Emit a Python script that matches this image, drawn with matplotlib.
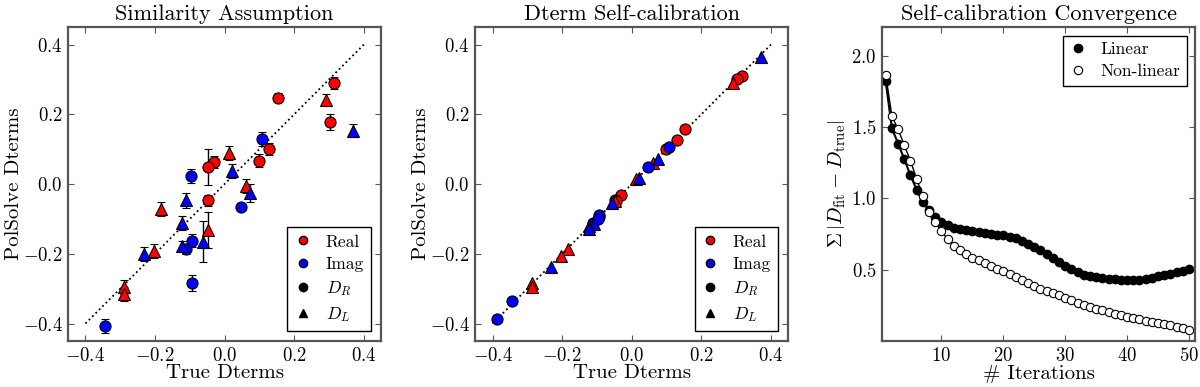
import numpy as np
import matplotlib
matplotlib.use("Agg")
import matplotlib.pyplot as plt
from matplotlib.lines import Line2D

plt.rcParams['font.family'] = 'serif'
plt.rcParams['font.serif'] = ['cmr10', 'DejaVu Serif']
plt.rcParams['mathtext.fontset'] = 'cm'
plt.rcParams['axes.formatter.use_mathtext'] = True
plt.rcParams['axes.unicode_minus'] = True

# --- panel 1: similarity assumption (true, fitted, error) ---
re_r_true = [0.314, 0.304, 0.152, 0.128, 0.098, -0.030, -0.049, -0.048]
re_r_fit = [0.290, 0.178, 0.248, 0.101, 0.067, 0.063, 0.049, -0.047]
re_r_err = [0.018, 0.022, 0.014, 0.018, 0.018, 0.018, 0.052, 0.015]
re_l_true = [0.291, 0.012, 0.060, -0.048, -0.182, -0.204, -0.288, -0.288]
re_l_fit = [0.242, 0.089, -0.007, -0.131, -0.072, -0.193, -0.295, -0.315]
re_l_err = [0.015, 0.020, 0.020, 0.052, 0.020, 0.020, 0.020, 0.020]
im_r_true = [-0.345, -0.112, -0.094, -0.094, -0.096, 0.046, 0.106]
im_r_fit = [-0.408, -0.186, -0.162, -0.284, 0.022, -0.066, 0.129]
im_r_err = [0.020, 0.015, 0.020, 0.022, 0.020, 0.004, 0.020]
im_l_true = [0.369, 0.020, 0.074, -0.062, -0.110, -0.122, -0.123, -0.233]
im_l_fit = [0.153, 0.036, -0.026, -0.165, -0.047, -0.177, -0.112, -0.200]
im_l_err = [0.018, 0.020, 0.025, 0.060, 0.022, 0.015, 0.020, 0.020]

# --- panel 2: self-calibration ---
sc_re_r = ([0.316, 0.303, 0.153, 0.129, 0.097, -0.030, -0.049, -0.045],
           [0.311, 0.301, 0.158, 0.127, 0.101, -0.031, -0.045, -0.049])
sc_re_l = ([0.292, 0.011, 0.061, -0.048, -0.182, -0.204, -0.288, -0.288],
           [0.290, 0.015, 0.060, -0.050, -0.187, -0.207, -0.285, -0.296])
sc_im_r = ([-0.388, -0.345, -0.112, -0.094, -0.094, -0.096, 0.047, 0.107],
           [-0.386, -0.335, -0.112, -0.095, -0.090, -0.100, 0.049, 0.105])
sc_im_l = ([0.370, 0.021, 0.074, -0.058, -0.110, -0.122, -0.123, -0.233],
           [0.364, 0.017, 0.072, -0.054, -0.115, -0.120, -0.128, -0.237])

# --- panel 3: convergence ---
iters = np.arange(1, 51)
linear = [1.82, 1.49, 1.384, 1.274, 1.16, 1.06, 0.972, 0.915, 0.867, 0.833,
          0.81, 0.795, 0.786, 0.776, 0.770, 0.763, 0.758, 0.752, 0.745, 0.740,
          0.732, 0.723, 0.702, 0.681, 0.658, 0.634, 0.611, 0.581, 0.553, 0.525,
          0.502, 0.480, 0.465, 0.456, 0.449, 0.442, 0.437, 0.432, 0.427, 0.425,
          0.425, 0.428, 0.436, 0.444, 0.453, 0.461, 0.472, 0.482, 0.490, 0.505]
nonlinear = [1.867, 1.576, 1.484, 1.372, 1.263, 1.135, 1.014, 0.907, 0.833, 0.768,
             0.716, 0.669, 0.641, 0.611, 0.583, 0.565, 0.546, 0.525, 0.507, 0.490,
             0.470, 0.449, 0.425, 0.404, 0.386, 0.367, 0.351, 0.337, 0.320, 0.304,
             0.286, 0.269, 0.252, 0.239, 0.227, 0.214, 0.202, 0.191, 0.181, 0.170,
             0.159, 0.151, 0.142, 0.134, 0.125, 0.117, 0.109, 0.100, 0.091, 0.078]

RED = '#ff0000'
BLUE = '#0000ff'
SPINE = '#555555'


def style_axes(ax):
    for s in ax.spines.values():
        s.set_color(SPINE)
        s.set_linewidth(1.6)
    ax.tick_params(direction='in', top=True, right=True, length=4,
                   color=SPINE, labelsize=13.5, pad=4)


def dterm_legend(ax):
    handles = [
        Line2D([], [], ls='none', marker='o', mfc=RED, mec='k', ms=6),
        Line2D([], [], ls='none', marker='o', mfc=BLUE, mec='k', ms=6),
        Line2D([], [], ls='none', marker='o', mfc='k', mec='k', ms=6),
        Line2D([], [], ls='none', marker='^', mfc='k', mec='k', ms=6),
    ]
    leg = ax.legend(handles, ['Real', 'Imag', r'$D_R$', r'$D_L$'],
                    loc='lower right', numpoints=1, fontsize=12.5,
                    fancybox=False, edgecolor='k', framealpha=1,
                    handlelength=1.0, borderpad=0.4, labelspacing=0.4,
                    handletextpad=0.8, borderaxespad=0.6)
    leg.get_frame().set_linewidth(1.0)


fig = plt.figure(figsize=(12, 3.87), dpi=100)
ax1 = fig.add_axes([0.0567, 0.119, 0.261, 0.811])
ax2 = fig.add_axes([0.396, 0.119, 0.261, 0.811])
ax3 = fig.add_axes([0.735, 0.119, 0.261, 0.811])

ekw = dict(ls='none', ecolor='k', elinewidth=1.0, capsize=3, capthick=1.0,
           mec='k', mew=0.8, ms=8)

# panel 1
ax1.plot([-0.4, 0.4], [-0.4, 0.4], ls=':', color='k', lw=1.3)
ax1.errorbar(re_r_true, re_r_fit, yerr=re_r_err, marker='o', mfc=RED, **ekw)
ax1.errorbar(re_l_true, re_l_fit, yerr=re_l_err, marker='^', mfc=RED, **ekw)
ax1.errorbar(im_r_true, im_r_fit, yerr=im_r_err, marker='o', mfc=BLUE, **ekw)
ax1.errorbar(im_l_true, im_l_fit, yerr=im_l_err, marker='^', mfc=BLUE, **ekw)
ax1.set_title('Similarity Assumption', fontsize=16, pad=5)

# panel 2
ax2.plot([-0.4, 0.4], [-0.4, 0.4], ls=':', color='k', lw=1.3)
ax2.plot(*sc_re_r, ls='none', marker='o', mfc=RED, mec='k', mew=0.8, ms=8)
ax2.plot(*sc_re_l, ls='none', marker='^', mfc=RED, mec='k', mew=0.8, ms=8)
ax2.plot(*sc_im_r, ls='none', marker='o', mfc=BLUE, mec='k', mew=0.8, ms=8)
ax2.plot(*sc_im_l, ls='none', marker='^', mfc=BLUE, mec='k', mew=0.8, ms=8)
ax2.set_title('Dterm Self-calibration', fontsize=16, pad=5)

for ax in (ax1, ax2):
    ax.set_xlim(-0.45, 0.45)
    ax.set_ylim(-0.45, 0.45)
    ax.set_xticks([-0.4, -0.2, 0.0, 0.2, 0.4])
    ax.set_yticks([-0.4, -0.2, 0.0, 0.2, 0.4])
    ax.set_xlabel('True Dterms', fontsize=15, labelpad=0)
    ax.set_ylabel('PolSolve Dterms', fontsize=15, labelpad=0)
    style_axes(ax)
    dterm_legend(ax)

# panel 3
ax3.plot(iters, linear, '-o', color='k', mfc='k', mec='k', ms=6, lw=1.5,
         label='Linear')
ax3.plot(iters, nonlinear, '-o', color='k', mfc='white', mec='k', ms=6,
         mew=0.8, lw=1.0, label='Non-linear')
ax3.set_xlim(0.4, 51)
ax3.set_ylim(0.0, 2.2)
ax3.set_xticks([10, 20, 30, 40, 50])
ax3.set_yticks([0.5, 1.0, 1.5, 2.0])
ax3.set_xlabel('# Iterations', fontsize=15, labelpad=0)
ax3.set_ylabel(r'$\Sigma\,\left|D_{\rm fit}-D_{\rm true}\right|$', fontsize=15,
               labelpad=2)
ax3.set_title('Self-calibration Convergence', fontsize=16, pad=5)
style_axes(ax3)
leg = ax3.legend(loc='upper right', numpoints=1, fontsize=12.5, fancybox=False,
                 edgecolor='k', framealpha=1, handlelength=1.0,
                 borderpad=0.35, labelspacing=0.4, handletextpad=0.8,
                 borderaxespad=0.5)
for h in leg.legend_handles:
    h.set_linestyle('none')
leg.get_frame().set_linewidth(1.0)

fig.savefig('out.png', dpi=100)
